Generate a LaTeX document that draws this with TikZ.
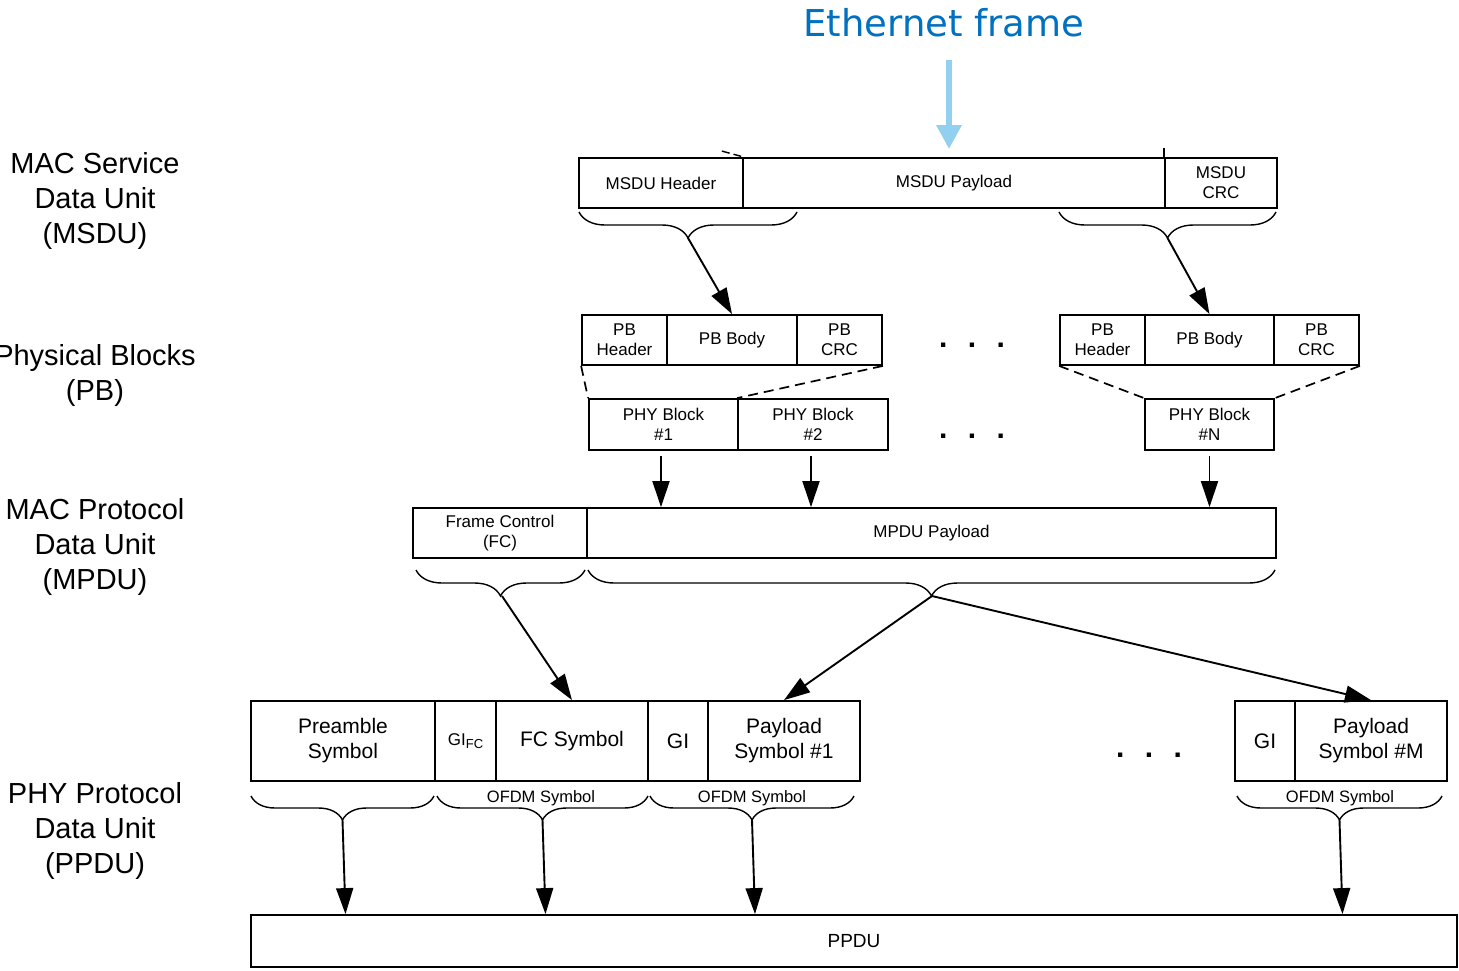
\documentclass[tikz,border=0pt]{standalone}
\usepackage{fontspec}
\setmainfont{Liberation Sans}
\newfontfamily\dejavu{DejaVu Sans}
\usetikzlibrary{arrows.meta,decorations.pathreplacing}
\definecolor{ethblue}{RGB}{0,112,192}
\definecolor{arrowblue}{RGB}{146,208,240}
\newcommand\fsz[2]{\fontsize{#1}{#2}\selectfont}
\begin{document}
\begin{tikzpicture}[x=1pt,y=-1pt,
  box/.style={draw, line width=1.8pt, inner sep=0pt, align=center, font=\fsz{17}{20}},
  bigbox/.style={box, font=\fsz{21}{25}},
  lbl/.style={align=center, font=\fsz{29}{35}},
  brc/.style={line width=1.4pt, decorate, decoration={brace, mirror, amplitude=#1}},
  brc/.default=26pt,
  arr/.style={line width=1.9pt, -{Triangle[length=26pt,width=17pt]}},
  dsh/.style={line width=1.7pt, dash pattern=on 10pt off 6pt},
  dots/.style={font=\bfseries\fsz{30}{30}, inner sep=0pt},
  ofdm/.style={font=\fsz{16.5}{20}, inner sep=0pt}]
\useasboundingbox (0,0) rectangle (1459,970);

% Ethernet frame
\node[font=\dejavu\fsz{37}{44}, text=ethblue, inner sep=0pt] (eth) at (944,23) {Ethernet frame};

% left labels
\node[lbl] (l1) at (95,201) {MAC Service\\Data Unit\\(MSDU)};
\node[lbl] (l2) at (95,375) {Physical Blocks\\(PB)};
\node[lbl] (l3) at (95,547) {MAC Protocol\\Data Unit\\(MPDU)};
\node[lbl] (l4) at (95,831) {PHY Protocol\\Data Unit\\(PPDU)};

% MSDU row
\node[box, minimum width=164pt, minimum height=50pt] (mh) at (661,183) {MSDU Header};
\node[box, minimum width=422pt, minimum height=50pt] (mp) at (954,183) {MSDU Payload};
\node[box, minimum width=112pt, minimum height=50pt] (mc) at (1221,183) {MSDU\\CRC};

% Ethernet arrow
\coordinate (ea) at (949,60);
\draw[line width=6pt, arrowblue, -{Triangle[length=24pt,width=24pt]}, shorten >=8pt] (ea) -- (ea |- mp.north);

% small marks above MSDU row
\draw[line width=1.4pt, dash pattern=on 8pt off 4pt] ([shift={(-22pt,6pt)}]mh.north east) -- (mh.north east);
\draw[line width=1.4pt] (mc.north west) -- ++(0,-9);

% PB rows
\node[box, minimum width=85pt, minimum height=50pt] (pbh1) at (624.5,340) {PB\\Header};
\node[box, minimum width=130pt, minimum height=50pt] (pbb1) at (732,340) {PB Body};
\node[box, minimum width=85pt, minimum height=50pt] (pbc1) at (839.5,340) {PB\\CRC};
\node[box, minimum width=85pt, minimum height=50pt] (pbh2) at (1102.5,340) {PB\\Header};
\node[box, minimum width=129pt, minimum height=50pt] (pbb2) at (1209.5,340) {PB Body};
\node[box, minimum width=85pt, minimum height=50pt] (pbc2) at (1316.5,340) {PB\\CRC};
\node[dots] (d1) at (972,345) {.\hspace{20.5pt}.\hspace{20.5pt}.};

% PHY blocks
\node[box, minimum width=149pt, minimum height=51pt] (phy1) at (663.5,424.5) {PHY Block\\\#1};
\node[box, minimum width=150pt, minimum height=51pt] (phy2) at (813,424.5) {PHY Block\\\#2};
\node[box, minimum width=129pt, minimum height=51pt] (phyN) at (1209.5,424.5) {PHY Block\\\#N};
\node[dots] (d2) at (972,436) {.\hspace{20.5pt}.\hspace{20.5pt}.};

% dashed expansion lines
\draw[dsh] (pbh1.south west) -- (phy1.north west);
\draw[dsh] (pbc1.south east) -- (phy2.north west);
\draw[dsh] (pbh2.south west) -- (phyN.north west);
\draw[dsh] (pbc2.south east) -- (phyN.north east);

% MSDU braces and arrows
\draw[brc] (579,212) -- (797,212);
\draw[brc] (1059,212) -- (1276,212);
\coordinate (t1) at (688,238);
\coordinate (t2) at (1167.5,238);
\draw[arr] (t1) -- (pbb1.north);
\draw[arr] (t2) -- (pbb2.north);

% MPDU row
\node[box, minimum width=174pt, minimum height=50pt] (fc) at (500,533) {Frame Control\\(FC)};
\node[box, minimum width=689pt, minimum height=50pt] (mpp) at (931.5,533) {MPDU Payload};

\draw[arr] ([xshift=-2.5pt,yshift=-5pt]phy1.south) -- ([xshift=-2.5pt]phy1.south |- mpp.north);
\draw[arr] ([xshift=-2pt,yshift=-5pt]phy2.south) -- ([xshift=-2pt]phy2.south |- mpp.north);
\draw[arr] ([yshift=-5pt]phyN.south) -- (phyN.south |- mpp.north);

% MPDU braces
\draw[brc] (416,570) -- (585,570);
\draw[brc] (588,570) -- (1275,570);
\coordinate (t3) at (502,596);
\coordinate (t4) at (932,596);

% PPDU row
\node[bigbox, minimum width=184pt, minimum height=80pt] (pre) at (343,741) {Preamble\\Symbol};
\node[box, minimum width=61pt, minimum height=80pt] (gifc) at (465.5,741) {GI{\fsz{13}{15}\raisebox{-3pt}{FC}}};
\node[bigbox, minimum width=152pt, minimum height=80pt] (fcs) at (572,741) {FC Symbol};
\node[bigbox, minimum width=60pt, minimum height=80pt] (gi1) at (678,741) {GI};
\node[bigbox, minimum width=152pt, minimum height=80pt] (pay1) at (784,741) {Payload\\Symbol \#1};
\node[bigbox, minimum width=60pt, minimum height=80pt] (giM) at (1265,741) {GI};
\node[bigbox, minimum width=152pt, minimum height=80pt] (payM) at (1371,741) {Payload\\Symbol \#M};
\node[dots] (d3) at (1149,755) {.\hspace{20.5pt}.\hspace{20.5pt}.};

\draw[arr] (t3) -- (fcs.north);
\draw[arr] (t4) -- (pay1.north);
\draw[arr] (t4) -- (payM.north);

% PPDU braces
\draw[brc=24pt] (251,796) -- (434,796);
\draw[brc=24pt] (437,796) -- (648,796);
\draw[brc=24pt] (650,796) -- (854,796);
\draw[brc=24pt] (1237,796) -- (1442,796);
\node[ofdm] (o1) at (541,798) {OFDM Symbol};
\node[ofdm] (o2) at (752,798) {OFDM Symbol};
\node[ofdm] (o3) at (1340,798) {OFDM Symbol};
\coordinate (p1) at (342.5,820);
\coordinate (p2) at (542.5,820);
\coordinate (p3) at (752,820);
\coordinate (p4) at (1339.5,820);

% PPDU
\node[box, font=\fsz{19}{22}, minimum width=1206pt, minimum height=52pt] (ppdu) at (854,941) {PPDU};
\draw[arr] (p1) -- ([xshift=3pt]p1 |- ppdu.north);
\draw[arr] (p2) -- ([xshift=3pt]p2 |- ppdu.north);
\draw[arr] (p3) -- ([xshift=3pt]p3 |- ppdu.north);
\draw[arr] (p4) -- ([xshift=3pt]p4 |- ppdu.north);
\end{tikzpicture}
\end{document}
